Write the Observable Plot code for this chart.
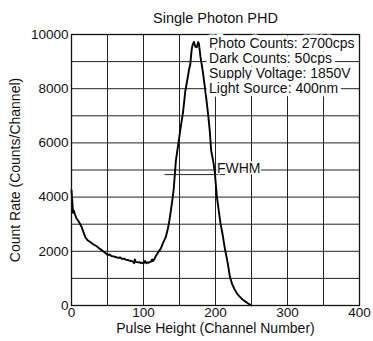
<!DOCTYPE html>
<html>
<head>
<meta charset="utf-8">
<script src="https://cdn.jsdelivr.net/npm/d3@7"></script>
<script src="https://cdn.jsdelivr.net/npm/@observablehq/plot@0.6"></script>
<style>
  html, body { margin: 0; padding: 0; background: #fff; }
  svg { overflow: visible; }
</style>
</head>
<body>
<div id="chart"></div>
<script>
// Curve: channel and counts per channel
const channels = [0, 1, 2, 3, 5, 7, 10, 14, 17, 19, 22, 26, 30, 35, 40, 44, 47, 50, 53, 55, 58, 61, 65, 68, 70, 73, 75, 78, 80, 83, 85, 87, 88, 89, 92, 94, 96, 98, 100, 102, 104, 106, 107, 110, 112, 113, 115, 117, 120, 124, 127, 131, 134, 136, 138, 140, 142, 145, 148, 151, 155, 158, 161, 163, 165, 166, 167, 168, 170, 172, 174, 176, 177, 179, 182, 185, 187, 190, 192, 194, 197, 199, 201, 202, 205, 207, 210, 213, 216, 218, 220, 223, 227, 231, 236, 240, 245, 250];
const counts = [4250, 3900, 3420, 3510, 3350, 3210, 3100, 2900, 2680, 2530, 2420, 2345, 2260, 2185, 2080, 2000, 1940, 1870, 1880, 1830, 1810, 1790, 1760, 1770, 1720, 1730, 1695, 1680, 1660, 1640, 1630, 1560, 1700, 1610, 1590, 1600, 1570, 1580, 1550, 1640, 1560, 1600, 1580, 1610, 1700, 1640, 1700, 1820, 1950, 2100, 2300, 2530, 2850, 3140, 3500, 3880, 4300, 5350, 5900, 6450, 7150, 7900, 8350, 8670, 8900, 9200, 9450, 9600, 9730, 9550, 9530, 9720, 9650, 9200, 8700, 8100, 7680, 7000, 6450, 5710, 5300, 4920, 4300, 4000, 3400, 3020, 2600, 2100, 1700, 1400, 1060, 800, 570, 400, 260, 170, 80, 0];

const xTicks = [0, 100, 200, 300, 400];
const yTicks = [0, 2000, 4000, 6000, 8000, 10000];
const xGrid = [50, 100, 150, 200, 250, 300, 350];
const yGrid = [1000, 2000, 3000, 4000, 5000, 6000, 7000, 8000, 9000];

const title = "Single Photon PHD";
const xLabel = "Pulse Height (Channel Number)";
const yLabel = "Count Rate (Counts/Channel)";

const infoLines = ["Photo Counts: 2700cps", "Dark Counts: 50cps", "Supply Voltage: 1850V", "Light Source: 400nm"];
const infoY = [9670, 9115, 8560, 8010];
const infoX = 191;

const fwhmLevel = 4830;
const fwhmFrom = 130;
const fwhmTo = 214;
const fwhmText = "FWHM";
const fwhmTextX = 202;
const fwhmTextY = 5060;

const curve = channels.map((c, i) => ({channel: c, count: counts[i]}));
const info = infoLines.map((t, i) => ({text: t, x: infoX, y: infoY[i]}));

const chart = Plot.plot({
  width: 373,
  height: 341,
  marginLeft: 71,
  marginRight: 14,
  marginTop: 34,
  marginBottom: 36,
  style: {fontFamily: "'Liberation Sans', Arial, sans-serif", fontSize: "13.5px", color: "#111", background: "#fff"},
  x: {domain: [0, 400]},
  y: {domain: [0, 10000]},
  marks: [
    Plot.ruleX(xGrid, {stroke: "#222", strokeWidth: 1}),
    Plot.ruleY(yGrid, {stroke: "#222", strokeWidth: 1}),
    Plot.axisX({ticks: xTicks, tickSize: 0, tickPadding: 2, label: null, fontSize: 13.5, tickFormat: d => String(d)}),
    Plot.axisY({ticks: yTicks, tickSize: 0, tickPadding: 3, label: null, fontSize: 13.5, tickFormat: d => String(d)}),
    Plot.line(curve, {x: "channel", y: "count", stroke: "#000", strokeWidth: 1.9, strokeLinejoin: "round"}),
    Plot.ruleY([fwhmLevel], {x1: fwhmFrom, x2: fwhmTo, stroke: "#222", strokeWidth: 1}),
    Plot.frame({stroke: "#111", strokeWidth: 1.3}),
    Plot.text([fwhmText], {x: fwhmTextX, y: fwhmTextY, textAnchor: "start", fontSize: 14, fill: "#111", stroke: "#fff", strokeWidth: 3}),
    Plot.text(info, {x: "x", y: "y", text: "text", textAnchor: "start", fontSize: 14, fill: "#111", stroke: "#fff", strokeWidth: 7}),
    Plot.text([title], {frameAnchor: "top", dy: -16, lineAnchor: "middle", fontSize: 14.5, fill: "#111"}),
    Plot.text([xLabel], {frameAnchor: "bottom", dy: 23, lineAnchor: "middle", fontSize: 14, fill: "#111"}),
    Plot.text([yLabel], {frameAnchor: "left", dx: -56, rotate: -90, textAnchor: "middle", lineAnchor: "middle", fontSize: 14, fill: "#111"})
  ]
});
document.getElementById("chart").appendChild(chart);
</script>
</body>
</html>
